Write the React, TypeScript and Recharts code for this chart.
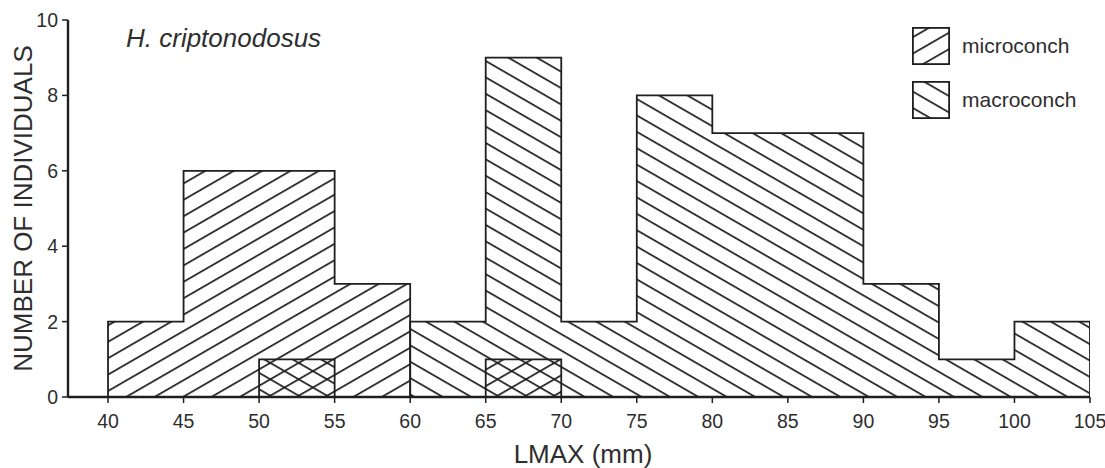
import { ComposedChart, Area, XAxis, YAxis, Legend } from "recharts";

const FONT = '"Liberation Sans", Arial, Helvetica, sans-serif';
const INK = "#1f1f1f";
const TEXT = "#2e2e2e";

// histogram bins (left edge, mm) and counts
const BIN_WIDTH = 5;
const microBins = [40, 45, 50, 55];
const microCounts = [2, 6, 6, 3];
const macroBins = [60, 65, 70, 75, 80, 85, 90, 95, 100];
const macroCounts = [2, 9, 2, 8, 7, 7, 3, 1, 2];
// overlapping individuals, drawn cross-hatched
const macroOverlapBins = [50];
const macroOverlapCounts = [1];
const microOverlapBins = [65];
const microOverlapCounts = [1];

const xTicks = [40, 45, 50, 55, 60, 65, 70, 75, 80, 85, 90, 95, 100, 105];
const yTicks = [0, 2, 4, 6, 8, 10];

const TITLE = "H. criptonodosus";
const X_LABEL = "LMAX (mm)";
const Y_LABEL = "NUMBER OF INDIVIDUALS";
const legendItems = [
  { label: "microconch", fill: "url(#hatchMicro)" },
  { label: "macroconch", fill: "url(#hatchMacro)" },
];

// turn bins into a closed step outline (stepAfter)
function toSteps(bins: number[], counts: number[]) {
  const pts = [{ x: bins[0], y: 0 }];
  bins.forEach((b, i) => pts.push({ x: b, y: counts[i] }));
  const end = bins[bins.length - 1] + BIN_WIDTH;
  pts.push({ x: end, y: counts[counts.length - 1] });
  pts.push({ x: end, y: 0 });
  return pts;
}

const microSteps = toSteps(microBins, microCounts);
const macroSteps = toSteps(macroBins, macroCounts);
const macroOverlapSteps = toSteps(macroOverlapBins, macroOverlapCounts);
const microOverlapSteps = toSteps(microOverlapBins, microOverlapCounts);

const GAP = 14.2;
const LINE = 1.7;

function Hatch({ id, angle, ox }: { id: string; angle: number; ox: number }) {
  return (
    <pattern
      id={id}
      patternUnits="userSpaceOnUse"
      width={20}
      height={GAP}
      patternTransform={`translate(${ox} 397) rotate(${angle}) translate(0 ${-LINE / 2})`}
    >
      <rect x={0} y={0} width={20} height={LINE} fill={INK} />
    </pattern>
  );
}

function YLabel(props: any) {
  const vb = props.viewBox;
  const cx = vb.x - 5;
  const cy = vb.y + vb.height / 2;
  return (
    <text
      x={cx}
      y={cy}
      transform={`rotate(-90 ${cx} ${cy})`}
      textAnchor="middle"
      dominantBaseline="central"
      fontSize={26}
      fill={TEXT}
      fontFamily={FONT}
    >
      {Y_LABEL}
    </text>
  );
}

function XLabel(props: any) {
  const vb = props.viewBox;
  return (
    <text
      x={vb.x + vb.width / 2 + 4}
      y={vb.y + 66}
      textAnchor="middle"
      fontSize={26}
      fill={TEXT}
      fontFamily={FONT}
    >
      {X_LABEL}
    </text>
  );
}

function LegendBox() {
  return (
    <div style={{ fontFamily: FONT }}>
      {legendItems.map((item, i) => (
        <div
          key={item.label}
          style={{ display: "flex", alignItems: "center", height: 38, marginTop: i ? 16 : 0 }}
        >
          <svg width={38} height={38}>
            <rect x={0.9} y={0.9} width={36.2} height={36.2} fill={item.fill} stroke={INK} strokeWidth={1.8} />
          </svg>
          <span style={{ marginLeft: 12, fontSize: 21, color: TEXT }}>{item.label}</span>
        </div>
      ))}
    </div>
  );
}

export default function App() {
  const axisStyle = { fontSize: 19.5, fill: TEXT, fontFamily: FONT };
  const areaProps = {
    dataKey: "y",
    type: "stepAfter" as const,
    fillOpacity: 1,
    stroke: INK,
    strokeWidth: 1.8,
    dot: false,
    activeDot: false,
    isAnimationActive: false,
  };
  return (
    <div
      style={{
        position: "absolute",
        left: 0,
        top: 0,
        width: 1105,
        height: 468,
        background: "#fff",
        fontFamily: FONT,
      }}
    >
      <ComposedChart width={1105} height={468} margin={{ top: 20, right: 15, bottom: 31, left: 28 }}>
        <defs>
          <Hatch id="hatchMicro" angle={-30} ox={126} />
          <Hatch id="hatchMacro" angle={30} ox={443} />
        </defs>
        <XAxis
          dataKey="x"
          type="number"
          domain={[37.35, 105]}
          ticks={xTicks}
          allowDataOverflow
          height={40}
          tickSize={6}
          tickMargin={11}
          tick={axisStyle}
          axisLine={{ stroke: INK, strokeWidth: 2.4 }}
          tickLine={{ stroke: INK, strokeWidth: 1.5 }}
          label={XLabel}
        />
        <YAxis
          type="number"
          domain={[0, 10]}
          ticks={yTicks}
          allowDataOverflow
          width={40}
          tickSize={6}
          tickMargin={4}
          tick={axisStyle}
          axisLine={{ stroke: INK, strokeWidth: 2.4 }}
          tickLine={{ stroke: INK, strokeWidth: 1.5 }}
          label={YLabel}
        />
        <Area {...areaProps} name="microconch" data={microSteps} fill="url(#hatchMicro)" />
        <Area {...areaProps} name="macroconch" data={macroSteps} fill="url(#hatchMacro)" />
        <Area {...areaProps} name="macro overlap" data={macroOverlapSteps} fill="url(#hatchMacro)" legendType="none" />
        <Area {...areaProps} name="micro overlap" data={microOverlapSteps} fill="url(#hatchMicro)" legendType="none" />
        <Legend
          layout="vertical"
          align="center"
          verticalAlign="middle"
          content={() => <LegendBox />}
          wrapperStyle={{ left: 912, top: 27, width: 190 }}
        />
      </ComposedChart>
      <div
        style={{
          position: "absolute",
          left: 126,
          top: 25,
          fontSize: 26,
          lineHeight: 1,
          fontStyle: "italic",
          color: TEXT,
          whiteSpace: "nowrap",
        }}
      >
        {TITLE}
      </div>
    </div>
  );
}
